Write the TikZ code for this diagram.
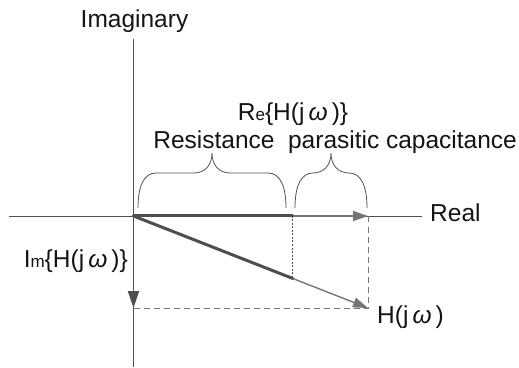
\documentclass[tikz,border=0pt]{standalone}
\usepackage{fontspec}
\setmainfont{Liberation Sans}
\usepackage{tikz}
\usetikzlibrary{arrows.meta,calc}
\definecolor{axisgray}{RGB}{80,80,80}
\definecolor{vecgray}{RGB}{118,118,118}
\definecolor{partgray}{RGB}{78,78,78}
\definecolor{inkgray}{RGB}{20,20,20}
\newcommand{\smallpart}[1]{{\fontsize{17}{17}\selectfont #1}}
\newcommand{\omg}{\,{\itshape ω}\,}
\newcommand{\curlybrace}[3]{%
  \pgfmathsetmacro{\bmid}{(#1+#2)/2}
  \draw[bracecurve] (#1,#3) .. controls +(0,24) and +(-11,0) .. (#1+18,#3+35)
    -- (\bmid-18,#3+35) .. controls +(11,0) and +(0,-12) .. (\bmid,#3+55)
    .. controls +(0,-12) and +(-11,0) .. (\bmid+18,#3+35)
    -- (#2-18,#3+35) .. controls +(11,0) and +(0,24) .. (#2,#3);
}
\tikzset{
  axis/.style={draw=axisgray,line width=0.9pt},
  vec/.style={draw=vecgray,line width=1.4pt,-{Triangle[length=15pt,width=10pt]}},
  imvec/.style={draw=partgray,line width=1.9pt,-{Triangle[length=17pt,width=11pt]}},
  part/.style={draw=partgray,line width=3pt,line cap=round},
  guide/.style={draw=vecgray,line width=0.9pt,dash pattern=on 6pt off 4pt},
  proj/.style={draw=partgray,line width=0.8pt,dash pattern=on 2pt off 1.5pt},
  bracecurve/.style={draw=axisgray,line width=0.8pt},
  lab/.style={font=\fontsize{24.5}{28}\selectfont,text=inkgray,inner sep=0pt},
}
\begin{document}
\begin{tikzpicture}[x=1pt,y=1pt]
  \path[use as bounding box] (0,0) rectangle (519,367);

  % axes
  \coordinate (O) at (133.5,151);
  \coordinate (Xl) at (9,151);
  \coordinate (Xr) at (422,151);
  \coordinate (Yt) at (133.5,328);
  \coordinate (Yb) at (133.5,0);
  \draw[axis] (Xl) -- (Xr);
  \draw[axis] (Yt) -- (Yb);
  \node[lab,anchor=base] (imag) at (134.5,339) {Imaginary};
  \node[lab,anchor=base west] (real) at (430,146) {Real};

  % vector and its parts
  \coordinate (R) at (368,151);
  \coordinate (H) at (368,59);
  \coordinate (I) at (133.5,59);
  \coordinate (P) at ($(O)!0.679!(H)$);
  \coordinate (M) at (P |- O);
  \draw[guide] (I) -- (H) -- (R);
  \draw[proj] (M) -- (P);
  \draw[vec] (O) -- (R);
  \draw[vec] (O) -- (H);
  \draw[part] (O) -- (M);
  \draw[part] (O) -- (P);
  \draw[imvec] (O) -- (I);

  % braces over the real part
  \curlybrace{138}{286}{159}
  \curlybrace{295}{367}{159}

  \node[lab,anchor=base] (resist) at (214,218) {Resistance};
  \node[lab,anchor=base] (parcap) at (402.5,218) {parasitic capacitance};
  \node[lab,anchor=base] (relab) at (293,246) {R\smallpart{e}\{H(j\omg)\}};
  \node[lab,anchor=base east] (imlab) at (128,100) {I\smallpart{m}\{H(j\omg)\}};
  \node[lab,anchor=base west] (hlab) at (377,44) {H(j\omg)};
\end{tikzpicture}
\end{document}
